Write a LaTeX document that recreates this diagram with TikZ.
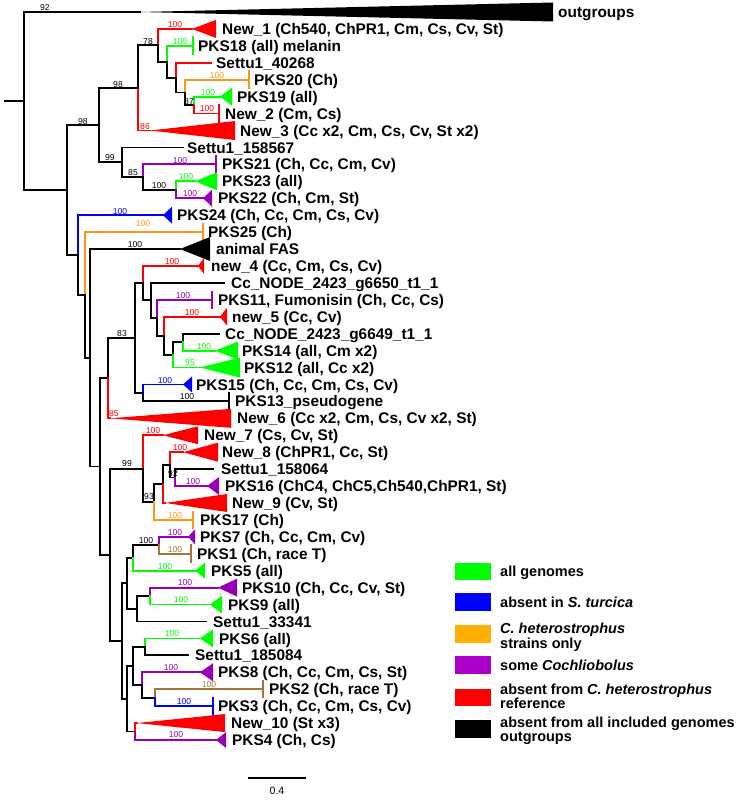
\documentclass[tikz,border=0pt]{standalone}
\usepackage{fontspec}
\setmainfont{Liberation Sans}
\definecolor{cgreen}{RGB}{0,255,0}
\definecolor{cblue}{RGB}{0,0,255}
\definecolor{corange}{RGB}{255,150,20}
\definecolor{cpurple}{RGB}{150,0,180}
\definecolor{cred}{RGB}{255,0,0}
\definecolor{cbrown}{RGB}{165,115,60}
\definecolor{lorange}{RGB}{255,176,0}
\definecolor{lpurple}{RGB}{170,0,200}
\newcounter{bsc}
\newcommand\tri[8]{%
  \coordinate (#1) at (#3,{ry(#5)});
  \fill[#2] (#1) -- (#4,{ry(#5)-#6}) -- (#4,{ry(#5)+#6}) -- cycle;
  \node[lab] (#1-l) at (#7,{ry(#5)+5.6}) {#8};}
\newcommand\leafbar[7]{%
  \coordinate (#1) at (#3,{ry(#4)});
  \draw[br,#2] (#3,{ry(#4)-#5}) -- (#3,{ry(#4)+#5});
  \node[lab] (#1-l) at (#6,{ry(#4)+5.6}) {#7};}
\newcommand\leafline[5]{%
  \coordinate (#1) at (#2,{ry(#3)});
  \node[lab] (#1-l) at (#4,{ry(#3)+5.6}) {#5};}
\newcommand\brn[3]{\draw[br,#1] (#2) |- (#3);}
\newcommand\bs[4]{\stepcounter{bsc}\node[bsl,text=#1] (bs\arabic{bsc}) at (#2,#3) {#4};}
\begin{document}
\begin{tikzpicture}[x=1pt,y=-1pt,
  declare function={ry(\r)=12+16.93*\r;},
  br/.style={line width=1.8pt,line cap=rect},
  lab/.style={anchor=base west,inner sep=0pt,font=\bfseries\fontsize{15.4}{16}\selectfont},
  bsl/.style={inner sep=0pt,font=\fontsize{8.6}{9}\selectfont},
  legbox/.style={minimum width=36pt,minimum height=17.5pt,inner sep=0pt,draw=none},
  legtxt/.style={anchor=base west,inner sep=0pt,font=\bfseries\fontsize{14.5}{15}\selectfont}]
\useasboundingbox (0,0) rectangle (739,800);
% internal nodes
\coordinate (stub) at (5,{ry(5.26)});
\coordinate (root) at (24,{ry(5.26)});
\coordinate (A) at (67,{ry(10.52)});
\coordinate (F) at (99,{ry(6.68)});
\coordinate (G) at (138,{ry(4.48)});
\coordinate (I) at (158,{ry(1.97)});
\coordinate (J) at (167,{ry(2.94)});
\coordinate (K) at (176,{ry(3.875)});
\coordinate (L) at (185,{ry(4.75)});
\coordinate (M) at (194,{ry(5.5)});
\coordinate (H) at (122,{ry(8.875)});
\coordinate (N) at (143,{ry(9.75)});
\coordinate (O) at (176,{ry(10.5)});
\coordinate (B) at (78,{ry(14.36)});
\coordinate (C) at (85,{ry(16.71)});
\coordinate (D) at (90,{ry(20.42)});
\coordinate (E) at (100,{ry(26.85)});
\coordinate (P) at (108,{ry(21.63)});
\coordinate (Q) at (135,{ry(19.26)});
\coordinate (U) at (143,{ry(16.02)});
\coordinate (W) at (151,{ry(17.03)});
\coordinate (X) at (157,{ry(18.06)});
\coordinate (Y) at (164,{ry(19.125)});
\coordinate (Z) at (173,{ry(20.25)});
\coordinate (AA) at (183,{ry(19.5)});
\coordinate (V) at (143,{ry(22.5)});
\coordinate (R) at (110,{ry(32.06)});
\coordinate (S) at (143,{ry(26.97)});
\coordinate (BB) at (154,{ry(28.94)});
\coordinate (CC) at (163,{ry(27.875)});
\coordinate (DD) at (170,{ry(26.75)});
\coordinate (EE) at (175,{ry(27.5)});
\coordinate (T) at (122,{ry(37.16)});
\coordinate (HH) at (127,{ry(33.75)});
\coordinate (GG) at (133,{ry(32.25)});
\coordinate (FF) at (159,{ry(31.5)});
\coordinate (II) at (137,{ry(35.25)});
\coordinate (JJ) at (150,{ry(34.5)});
\coordinate (PP) at (127,{ry(40.56)});
\coordinate (NN) at (133,{ry(38.625)});
\coordinate (KK) at (145,{ry(37.5)});
\coordinate (LL) at (142,{ry(39.75)});
\coordinate (MM) at (155,{ry(40.5)});
\coordinate (OO) at (135,{ry(42.5)});
% leaves
\tri{og}{black}{140}{553}{0}{9.5}{558}{outgroups}
\tri{l1}{cred}{192}{216}{1}{9}{222}{New\_1 (Ch540, ChPR1, Cm, Cs, Cv, St)}
\leafbar{l2}{cgreen}{193}{2}{8.5}{198}{PKS18 (all) melanin}
\leafline{l3}{211}{3}{216}{Settu1\_40268}
\leafbar{l4}{corange}{249}{4}{8.5}{254}{PKS20 (Ch)}
\tri{l5}{cgreen}{220}{232}{5}{9}{237}{PKS19 (all)}
\leafbar{l6}{cred}{219}{6}{9}{225}{New\_2 (Cm, Cs)}
\tri{l7}{cred}{150}{235}{7}{9.5}{240}{New\_3 (Cc x2, Cm, Cs, Cv, St x2)}
\leafline{l8}{183}{8}{187}{Settu1\_158567}
\leafbar{l9}{cpurple}{216}{9}{8}{222}{PKS21 (Ch, Cc, Cm, Cv)}
\tri{l10}{cgreen}{195}{217}{10}{9}{222}{PKS23 (all)}
\tri{l11}{cpurple}{203}{212}{11}{8.5}{218}{PKS22 (Ch, Cm, St)}
\tri{l12}{cblue}{163}{172}{12}{8.5}{177}{PKS24 (Ch, Cc, Cm, Cs, Cv)}
\leafbar{l13}{corange}{203}{13}{8}{208}{PKS25 (Ch)}
\tri{l14}{black}{180}{210}{14}{12}{216}{animal FAS}
\tri{l15}{cred}{198}{204}{15}{8}{211}{new\_4 (Cc, Cm, Cs, Cv)}
\leafline{l16}{224}{16}{231}{Cc\_NODE\_2423\_g6650\_t1\_1}
\leafbar{l17}{cpurple}{212}{17}{8}{218}{PKS11, Fumonisin (Ch, Cc, Cs)}
\tri{l18}{cred}{220}{227}{18}{9}{232}{new\_5 (Cc, Cv)}
\leafline{l19}{219}{19}{225}{Cc\_NODE\_2423\_g6649\_t1\_1}
\tri{l20}{cgreen}{215}{238}{20}{9}{242}{PKS14 (all, Cm x2)}
\tri{l21}{cgreen}{200}{240}{21}{10}{244}{PKS12 (all, Cc x2)}
\tri{l22}{cblue}{183}{192}{22}{8}{196}{PKS15 (Ch, Cc, Cm, Cs, Cv)}
\leafbar{l23}{black}{229}{23}{8}{235}{PKS13\_pseudogene}
\tri{l24}{cred}{110}{231}{24}{9.5}{237}{New\_6 (Cc x2, Cm, Cs, Cv x2, St)}
\tri{l25}{cred}{163}{198}{25}{9}{204}{New\_7 (Cs, Cv, St)}
\tri{l26}{cred}{183}{218}{26}{9.5}{222}{New\_8 (ChPR1, Cc, St)}
\leafline{l27}{213}{27}{221}{Settu1\_158064}
\tri{l28}{cpurple}{207}{219}{28}{9}{225}{PKS16 (ChC4, ChC5,Ch540,ChPR1, St)}
\tri{l29}{cred}{165}{227}{29}{9}{232}{New\_9 (Cv, St)}
\leafbar{l30}{corange}{193}{30}{8}{200}{PKS17 (Ch)}
\tri{l31}{cpurple}{188}{195}{31}{7.5}{200}{PKS7 (Ch, Cc, Cm, Cv)}
\leafbar{l32}{cbrown}{191}{32}{8.5}{197}{PKS1 (Ch, race T)}
\tri{l33}{cgreen}{195}{205}{33}{8}{211}{PKS5 (all)}
\tri{l34}{cpurple}{218}{237}{34}{9}{242}{PKS10 (Ch, Cc, Cv, St)}
\tri{l35}{cgreen}{210}{222}{35}{9}{228}{PKS9 (all)}
\leafline{l36}{206}{36}{213}{Settu1\_33341}
\tri{l37}{cgreen}{200}{213}{37}{9}{219}{PKS6 (all)}
\leafline{l38}{188}{38}{195}{Settu1\_185084}
\tri{l39}{cpurple}{200}{213}{39}{9}{218}{PKS8 (Ch, Cc, Cm, Cs, St)}
\leafbar{l40}{cbrown}{263}{40}{8}{269}{PKS2 (Ch, race T)}
\leafbar{l41}{cblue}{213}{41}{8.5}{218}{PKS3 (Ch, Cc, Cm, Cs, Cv)}
\tri{l42}{cred}{137}{225}{42}{9}{231}{New\_10 (St x3)}
\tri{l43}{cpurple}{216}{226}{43}{8}{232}{PKS4 (Ch, Cs)}
% branches
\draw[br] (stub) -- (root);
\brn{black}{root}{og} \brn{black}{root}{A}
\brn{black}{A}{F} \brn{black}{A}{B}
\brn{black}{F}{G} \brn{black}{F}{H}
\brn{cred}{G}{l7} \brn{black}{G}{I}
\brn{cred}{I}{l1} \brn{black}{I}{J}
\brn{cgreen}{J}{l2} \brn{black}{J}{K}
\brn{cred}{K}{l3} \brn{black}{K}{L}
\brn{corange}{L}{l4} \brn{black}{L}{M}
\brn{cgreen}{M}{l5} \brn{cred}{M}{l6}
\brn{black}{H}{l8} \brn{black}{H}{N}
\brn{cpurple}{N}{l9} \brn{black}{N}{O}
\brn{cgreen}{O}{l10} \brn{cpurple}{O}{l11}
\brn{cblue}{B}{l12} \brn{black}{B}{C}
\brn{corange}{C}{l13} \brn{black}{C}{D}
\brn{black}{D}{l14} \brn{black}{D}{E}
\brn{black}{E}{P} \brn{black}{E}{R}
\brn{black}{P}{Q} \brn{cred}{P}{l24}
\brn{black}{Q}{U} \brn{black}{Q}{V}
\brn{cred}{U}{l15} \brn{black}{U}{W}
\brn{black}{W}{l16} \brn{black}{W}{X}
\brn{cpurple}{X}{l17} \brn{black}{X}{Y}
\brn{cred}{Y}{l18} \brn{black}{Y}{Z}
\brn{black}{Z}{AA} \brn{cgreen}{Z}{l21}
\brn{black}{AA}{l19} \brn{cgreen}{AA}{l20}
\brn{cblue}{V}{l22} \brn{black}{V}{l23}
\brn{black}{R}{S} \brn{black}{R}{T}
\brn{cred}{S}{l25} \brn{black}{S}{BB}
\brn{black}{BB}{CC} \brn{corange}{BB}{l30}
\brn{black}{CC}{DD} \brn{cred}{CC}{l29}
\brn{cred}{DD}{l26} \brn{black}{DD}{EE}
\brn{black}{EE}{l27} \brn{cpurple}{EE}{l28}
\brn{black}{T}{HH} \brn{black}{T}{PP}
\brn{black}{HH}{GG} \brn{black}{HH}{II}
\brn{black}{GG}{FF} \brn{cgreen}{GG}{l33}
\brn{cpurple}{FF}{l31} \brn{cbrown}{FF}{l32}
\brn{black}{II}{JJ} \brn{black}{II}{l36}
\brn{cpurple}{JJ}{l34} \brn{cgreen}{JJ}{l35}
\brn{black}{PP}{NN} \brn{black}{PP}{OO}
\brn{black}{NN}{KK} \brn{black}{NN}{LL}
\brn{cgreen}{KK}{l37} \brn{black}{KK}{l38}
\brn{cpurple}{LL}{l39} \brn{black}{LL}{MM}
\brn{cbrown}{MM}{l40} \brn{cblue}{MM}{l41}
\brn{cred}{OO}{l42} \brn{cpurple}{OO}{l43}
% bootstrap values
\bs{black}{45}{8}{92}
\bs{cred}{175}{25}{100}
\bs{black}{148}{42}{78}
\bs{cgreen}{180}{42}{100}
\bs{black}{118}{85}{98}
\bs{corange}{217}{76}{100}
\bs{cgreen}{208}{93}{100}
\bs{black}{189}{102}{87}
\bs{cred}{207}{109}{100}
\bs{cred}{145}{127}{86}
\bs{black}{83}{122}{98}
\bs{black}{110}{158}{99}
\bs{cpurple}{180}{161}{100}
\bs{black}{133}{173}{85}
\bs{cgreen}{186}{177}{100}
\bs{black}{159}{186}{100}
\bs{cpurple}{190}{194}{100}
\bs{cblue}{120}{212}{100}
\bs{corange}{143}{224}{100}
\bs{black}{135}{245}{100}
\bs{cred}{172}{262}{100}
\bs{cpurple}{183}{296}{100}
\bs{cred}{192}{313}{100}
\bs{black}{122}{334}{83}
\bs{cgreen}{204}{347}{100}
\bs{cgreen}{190}{363}{95}
\bs{cblue}{165}{381}{100}
\bs{black}{187}{397}{100}
\bs{cred}{114}{414}{85}
\bs{cred}{153}{431}{100}
\bs{cred}{180}{448}{100}
\bs{black}{127}{464}{99}
\bs{black}{173}{474}{92}
\bs{cpurple}{193}{482}{100}
\bs{black}{149}{497}{93}
\bs{corange}{175}{516}{100}
\bs{cpurple}{175}{533}{100}
\bs{black}{146}{541}{100}
\bs{cbrown}{175}{550}{100}
\bs{cgreen}{165}{567}{100}
\bs{cpurple}{185}{583}{100}
\bs{cgreen}{181}{600}{100}
\bs{cgreen}{172}{634}{100}
\bs{cpurple}{171}{668}{100}
\bs{cbrown}{209}{685}{100}
\bs{cblue}{184}{702}{100}
\bs{cpurple}{176}{735}{100}
% scale bar
\coordinate (sb1) at (248,778);
\coordinate (sb2) at (306,778);
\draw[line width=2pt] (sb1) -- (sb2);
\node[inner sep=0pt,font=\fontsize{10.6}{11}\selectfont] (sbl) at (277,791) {0.4};
% legend
\node[legbox,fill=cgreen] (k1) at (473,571.5) {};
\node[legbox,fill=cblue] (k2) at (473,602) {};
\node[legbox,fill=lorange] (k3) at (473,634) {};
\node[legbox,fill=lpurple] (k4) at (473,665) {};
\node[legbox,fill=cred] (k5) at (473,697.5) {};
\node[legbox,fill=black] (k6) at (473,729) {};
\node[legtxt] (t1) at (500,576.5) {all genomes};
\node[legtxt] (t2) at (500,607) {absent in \textit{S. turcica}};
\node[legtxt] (t3a) at (500,633) {\textit{C. heterostrophus}};
\node[legtxt] (t3b) at (500,648) {strains only};
\node[legtxt] (t4) at (500,670) {some \textit{Cochliobolus}};
\node[legtxt] (t5a) at (500,694) {absent from \textit{C. heterostrophus}};
\node[legtxt] (t5b) at (500,708) {reference};
\node[legtxt] (t6a) at (500,727) {absent from all included genomes};
\node[legtxt] (t6b) at (500,741) {outgroups};
\end{tikzpicture}
\end{document}
